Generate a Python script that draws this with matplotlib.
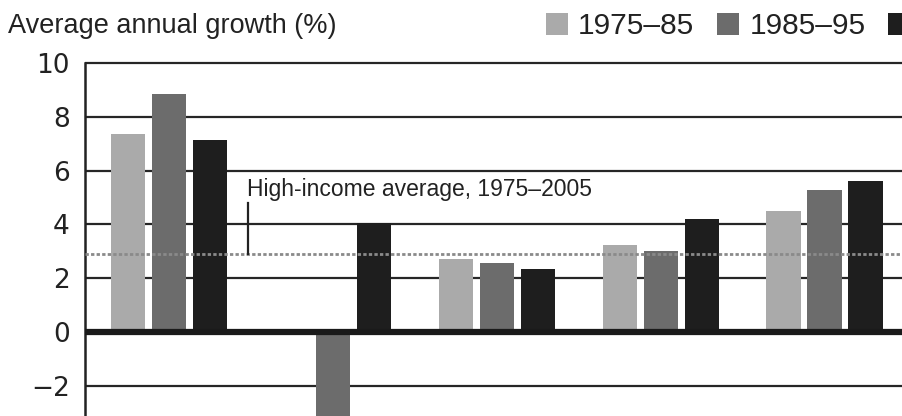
import numpy as np
import matplotlib.pyplot as plt
from matplotlib.patches import Patch

regions = ['East Asia & Pacific', 'Europe & Central Asia', 'Latin America & Caribbean',
           'Middle East & North Africa', 'South Asia']
periods = ['1975\u201385', '1985\u201395', '1995\u20132005']
g_1975_85 = [7.35, np.nan, 2.7, 3.25, 4.5]
g_1985_95 = [8.85, -4.5, 2.55, 3.0, 5.28]
g_1995_05 = [7.14, 4.05, 2.35, 4.2, 5.6]
high_income_avg = 2.9
yticks = [-2, 0, 2, 4, 6, 8, 10]

colors = ['#aaaaaa', '#6c6c6c', '#1e1e1e']
txt = '#222222'

W, H = 903, 416
fig = plt.figure(figsize=(W / 100, H / 100), dpi=100)
plt.rcParams['font.family'] = ['DejaVu Sans']

# axes: left spine at x=85px, value 10 at y=63px, 26.9 px per unit
ppu = 26.9
ymin = -(H - 332) / ppu
ymax = 10.25
top_px = 63 - (ymax - 10) * ppu
ax = fig.add_axes([85 / W, 0, 1 - 85 / W, (H - top_px) / H])
ax.set_ylim(ymin, ymax)
ax.set_xlim(-0.513, 4.478)

x = np.arange(len(regions))
bw = 0.21
step = 0.25
for i, (vals, c, lab) in enumerate(zip([g_1975_85, g_1985_95, g_1995_05], colors, periods)):
    ax.bar(x + (i - 1) * step, vals, width=bw, color=c, zorder=2, label=lab)

for t in yticks:
    if t == 0:
        continue
    ax.axhline(t, color='#262626', lw=1.6, zorder=1)
ax.axhline(0, color='#1a1a1a', lw=4.5, zorder=3)
ax.axhline(high_income_avg, color='#8a8a8a', lw=2, ls=(0, (1.2, 0.8)), zorder=4)

# annotation for the high-income line
ann_x = -0.513 + (248 - 85) / 163.9
ax.plot([ann_x, ann_x], [high_income_avg, 4.8], color='#222222', lw=1.6, zorder=4)
ax.text(ann_x - 0.005, 5.3, 'High-income average, 1975\u20132005', fontsize=16.5,
        color=txt, va='center', ha='left', family=['Liberation Sans'])

for s in ['top', 'right', 'bottom']:
    ax.spines[s].set_visible(False)
ax.spines['left'].set_bounds(ymin, 10)
ax.spines['left'].set_linewidth(1.8)
ax.spines['left'].set_color('#222222')
ax.set_xticks([])
ax.set_yticks(yticks)
ax.set_yticklabels([str(t).replace('-', '\u2212') for t in yticks])
ax.tick_params(axis='y', length=0, pad=11, labelsize=19, labelcolor=txt)

fig.text(8 / W, 1 - 33 / H, 'Average annual growth (%)', fontsize=19.5, color=txt,
         ha='left', va='baseline', family=['Liberation Sans'])

handles = [Patch(facecolor=c, edgecolor='none') for c in colors]
fig.legend(handles, periods, ncol=3, loc='upper left', bbox_to_anchor=(519 / W, 1.035),
           frameon=False, handlelength=0.75, handleheight=0.72,
           handletextpad=0.33, columnspacing=0.76, labelcolor=txt,
           prop={'family': 'Liberation Sans', 'size': 21.5})

fig.savefig('out.png', dpi=100)
